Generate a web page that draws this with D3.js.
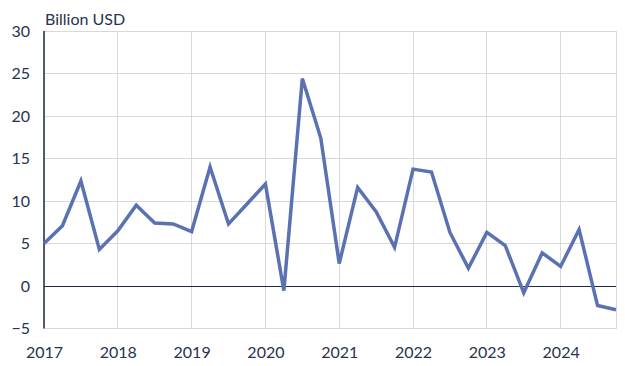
<!DOCTYPE html>
<html><head><meta charset="utf-8">
<script src="https://cdn.jsdelivr.net/npm/d3@7"></script>
<style>body{margin:0;background:#fff}svg{display:block}text{font-family:Lato,"Open Sans",sans-serif;fill:#283350}</style>
</head><body><svg id="c" width="625" height="366"></svg>
<script>
const quarters = ["2017Q1","2017Q2","2017Q3","2017Q4","2018Q1","2018Q2","2018Q3","2018Q4","2019Q1","2019Q2","2019Q3","2019Q4","2020Q1","2020Q2","2020Q3","2020Q4","2021Q1","2021Q2","2021Q3","2021Q4","2022Q1","2022Q2","2022Q3","2022Q4","2023Q1","2023Q2","2023Q3","2023Q4","2024Q1","2024Q2","2024Q3","2024Q4"];
const values = [5.0,7.1,12.35,4.3,6.5,9.5,7.4,7.3,6.4,14.0,7.3,9.65,12.0,-0.55,24.4,17.4,2.65,11.6,8.75,4.55,13.75,13.4,6.3,2.1,6.3,4.75,-0.8,3.9,2.3,6.65,-2.3,-2.8];
const yTicks = [-5,0,5,10,15,20,25,30];
const xTicks = [2017,2018,2019,2020,2021,2022,2023,2024];
const yLabel = "Billion USD";

const svg = d3.select("#c");
const tOf = q => +q.slice(0,4) + (+q.slice(5)-1)/4;
const x = d3.scaleLinear().domain([2017, 2024.75]).range([44, 616]);
const y = d3.scaleLinear().domain([-5, 30]).range([328.5, 31]);

const g = svg.append("g");
g.selectAll(".hg").data(yTicks).join("line")
  .attr("x1", 44).attr("x2", 616).attr("y1", d=>y(d)).attr("y2", d=>y(d))
  .attr("stroke", "#d9d9d9").attr("stroke-width", 1).attr("shape-rendering","crispEdges");
g.selectAll(".vg").data(xTicks.concat([2024.75])).join("line")
  .attr("x1", d=>x(d)).attr("x2", d=>x(d)).attr("y1", y(30)).attr("y2", y(-5))
  .attr("stroke", "#d9d9d9").attr("stroke-width", 1).attr("shape-rendering","crispEdges");
g.append("line").attr("x1",44).attr("x2",616).attr("y1",y(0)).attr("y2",y(0))
  .attr("stroke","#1f2a4a").attr("stroke-width",1).attr("shape-rendering","crispEdges");
g.append("line").attr("x1",44).attr("x2",44).attr("y1",y(30)).attr("y2",y(-5))
  .attr("stroke","#1f2a4a").attr("stroke-width",1.5);

const ya = d3.axisLeft(y).tickValues(yTicks).tickSize(0).tickPadding(14);
const yg = svg.append("g").attr("transform","translate(44,0)").call(ya);
yg.select(".domain").remove();
yg.selectAll("text").style("font-size","16px").attr("fill","#283350");
const xa = d3.axisBottom(x).tickValues(xTicks).tickFormat(d3.format("d")).tickSize(0).tickPadding(18);
const xg = svg.append("g").attr("transform",`translate(0,${y(-5)})`).call(xa);
xg.select(".domain").remove();
xg.selectAll("text").style("font-size","16px").attr("fill","#283350");

svg.append("text").attr("x",45).attr("y",25).style("font-size","16px").text(yLabel);

const line = d3.line().x((d,i)=>x(tOf(quarters[i]))).y(d=>y(d));
svg.append("path").datum(values).attr("d", line).attr("fill","none")
  .attr("stroke","#5b72b2").attr("stroke-width",3.5).attr("stroke-linejoin","miter");
</script></body></html>
